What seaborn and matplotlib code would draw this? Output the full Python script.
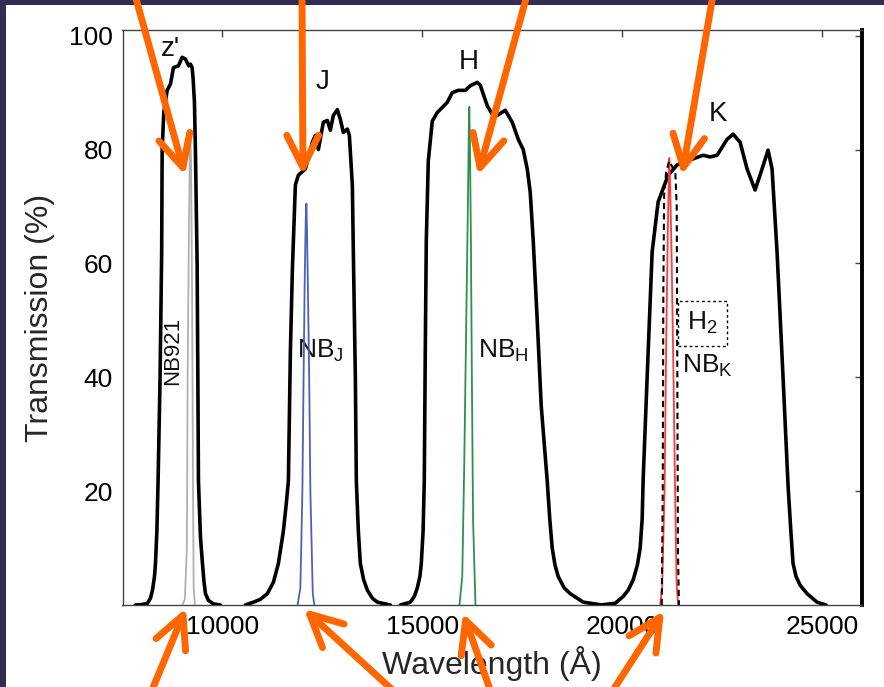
import matplotlib
matplotlib.use("Agg")
import matplotlib.pyplot as plt
import seaborn as sns
import pandas as pd
from matplotlib.patches import FancyArrowPatch, Rectangle

# ---------------- data ----------------
zp_wl = [7825, 8000, 8125, 8200, 8250, 8300, 8325, 8360, 8390, 8440, 8480, 8492, 8533, 8617, 8700,
         8775, 8900, 8992, 9075, 9158, 9200, 9242, 9267, 9300, 9325, 9367, 9385, 9400, 9450,
         9500, 9540, 9575, 9650, 9775, 9950]
zp_tr = [0, 0.1, 0.3, 1.2, 2.6, 5, 7.3, 13, 21.8, 40, 62, 80, 86.5, 90.4, 91.5,
         94.4, 94.7, 96.2, 95.9, 94.7, 95, 94.4, 92.4, 88.3, 79.5, 60, 40, 21.8, 12,
         7.3, 4, 2, 0.8, 0.2, 0]

j_wl = [10575, 10775, 10950, 11125, 11275, 11400, 11525, 11600, 11650, 11700, 11750, 11825,
        11900, 12075, 12250, 12325, 12400, 12525, 12625, 12700, 12775, 12875, 12950, 13025,
        13125, 13175, 13250, 13275, 13325, 13350, 13400, 13450, 13530, 13625, 13750, 13875, 14200]
j_tr = [0, 0.5, 1, 2, 4, 7.3, 13, 18, 21.8, 44.6, 59, 73.8,
        75.5, 76.6, 81.3, 82.5, 80, 84.8, 85.1, 83.4, 86, 87, 85.3, 83,
        83.6, 82.5, 73.8, 62, 40, 21.8, 13, 7.3, 4.5, 2.6, 1.2, 0.5, 0]

h_wl = [14450, 14700, 14800, 14875, 14940, 14975, 15020, 15050, 15075, 15100, 15150, 15250,
        15375, 15625, 15750, 15900, 16075, 16200, 16375, 16450, 16625, 16750, 16875, 17075,
        17250, 17400, 17525, 17625, 17700, 17775, 17875, 17975, 18125, 18190, 18250, 18320,
        18400, 18550, 18700, 19025, 19500]
h_tr = [0, 0.5, 1.5, 3, 5, 7.3, 13, 22, 45, 64, 78, 85,
        86.5, 88.3, 90, 90.4, 90.4, 91.2, 91.8, 91.3, 87.7, 86.2, 86, 86.9,
        84.8, 81.8, 80, 76.6, 72.5, 64, 50, 35, 21.8, 15, 10, 7,
        5, 3, 2, 0.5, 0]

k_wl = [19450, 19825, 20025, 20150, 20275, 20380, 20450, 20500, 20525, 20625, 20750, 20900,
        21150, 21375, 21750, 22025, 22200, 22375, 22625, 22775, 22950, 23125, 23325, 23500,
        23650, 23750, 23825, 23875, 24025, 24150, 24220, 24275, 24350, 24450, 24625, 24875, 25100]
k_tr = [0, 0.3, 1.5, 2.6, 4.4, 7, 10, 15, 22, 40, 62, 70.8,
        75.5, 77.3, 78.3, 79, 78.7, 79, 81.8, 82.7, 81.3, 76.6, 72.9, 76.6,
        79.9, 76.6, 67.8, 62, 40, 21, 13, 7.3, 5, 3.5, 2, 0.5, 0]

nb921_wl = [9000, 9060, 9110, 9130, 9160, 9185, 9200, 9215, 9240, 9265, 9280, 9310]
nb921_tr = [0, 1, 10, 40, 65, 80, 82, 78, 55, 20, 3, 0]

nbj_wl = [11880, 11950, 12000, 12030, 12060, 12085, 12100, 12115, 12140, 12170, 12200, 12260, 12300]
nbj_tr = [0, 3, 20, 40, 58, 68, 70.5, 66, 55, 40, 20, 2, 0]

nbh_wl = [15930, 16000, 16050, 16100, 16140, 16165, 16175, 16190, 16215, 16240, 16270, 16330]
nbh_tr = [0, 5, 25, 50, 70, 84, 87.5, 82, 65, 40, 15, 0]

nbk_wl = [20950, 21000, 21060, 21100, 21140, 21170, 21180, 21200, 21240, 21280, 21320, 21360, 21400]
nbk_tr = [0, 3, 20, 45, 65, 76, 78.5, 74, 60, 42, 22, 4, 0]

h2_wl = [20990, 21015, 21030, 21050, 21100, 21175, 21250, 21330, 21365, 21380, 21395, 21420]
h2_tr = [0, 20, 55, 72, 76, 78, 77, 76, 70, 40, 10, 0]

x_ticks = [10000, 15000, 20000, 25000]
y_ticks = [20, 40, 60, 80, 100]

# ---------------- style ----------------
sns.set_theme(style="white")
plt.rcParams["font.family"] = ["Liberation Sans", "DejaVu Sans"]
plt.rcParams["mathtext.fontset"] = "custom"
plt.rcParams["mathtext.rm"] = "Liberation Sans"
plt.rcParams["mathtext.it"] = "Liberation Sans:italic"
plt.rcParams["mathtext.bf"] = "Liberation Sans:bold"

W, H = 884, 687
fig = plt.figure(figsize=(W / 100, H / 100), dpi=100)
fig.patch.set_facecolor("#312d55")
fig.add_artist(Rectangle((6 / W, 0), 1 - 6 / W, 1 - 5 / H, transform=fig.transFigure,
                         facecolor="white", edgecolor="none", zorder=-10))

ax = fig.add_axes([122.5 / W, 1 - 605 / H, 739.5 / W, 575 / H])
ax.set_facecolor("white")

broad = [(zp_wl, zp_tr), (j_wl, j_tr), (h_wl, h_tr), (k_wl, k_tr)]
for wl, tr in broad:
    sns.lineplot(x=wl, y=tr, ax=ax, color="black", lw=2.6, estimator=None, sort=False, zorder=3)

narrow = [(nb921_wl, nb921_tr, "#b0b0b0"), (nbj_wl, nbj_tr, "#4a62b5"),
          (nbh_wl, nbh_tr, "#2f8f4e"), (nbk_wl, nbk_tr, "#ff3b3b")]
for wl, tr, c in narrow:
    sns.lineplot(x=wl, y=tr, ax=ax, color=c, lw=1.3, estimator=None, sort=False, zorder=4)

sns.lineplot(x=h2_wl, y=h2_tr, ax=ax, color="black", lw=1.5, estimator=None, sort=False,
             zorder=5, linestyle=(0, (3, 2)))

ax.set_xlim(7500, 26000)
ax.set_ylim(0, 101)
ax.set_xticks(x_ticks)
ax.set_yticks(y_ticks)
ax.tick_params(direction="in", length=5, width=1, top=True, right=True,
               labelsize=19, pad=7, colors="#444444", labelcolor="black")
for side in ["left", "bottom", "top"]:
    ax.spines[side].set_color("#444444")
    ax.spines[side].set_linewidth(1.0)
ax.spines["right"].set_color("black")
ax.spines["right"].set_linewidth(2.8)

ax.set_xlabel("Wavelength (Å)", fontsize=23, labelpad=5)
ax.set_ylabel("Transmission (%)", fontsize=23, labelpad=10)

tc = "#111111"
ax.text(8700, 97.6, "z'", fontsize=20, ha="center", va="center", color=tc)
ax.text(12500, 91.8, "J", fontsize=20, ha="center", va="center", color=tc)
ax.text(16150, 95.3, "H", fontsize=20, ha="center", va="center", color=tc)
ax.text(22400, 86.2, "K", fontsize=20, ha="center", va="center", color=tc)
ax.text(8750, 44.6, "NB921", fontsize=16, rotation=90, ha="center", va="center", color=tc)
ax.text(11875, 44.6, r"NB$_{\mathrm{J}}$", fontsize=19, ha="left", va="center", color=tc)
ax.text(16400, 44.6, r"NB$_{\mathrm{H}}$", fontsize=19, ha="left", va="center", color=tc)
ax.text(21500, 42.0, r"NB$_{\mathrm{K}}$", fontsize=19, ha="left", va="center", color=tc)
ax.text(22000, 49.5, r"H$_{\mathrm{2}}$", fontsize=19, ha="center", va="center", color=tc,
        bbox=dict(boxstyle="square,pad=0.35", facecolor="white", edgecolor="black",
                  linestyle=(0, (2, 2)), linewidth=1.0), zorder=6)

# ---------------- orange annotation arrows (figure pixel positions) ----------------
arrows = [((135, -5), (185, 175)), ((302, -5), (303, 175)), ((527, -5), (478, 175)),
          ((713, -5), (682, 175)), ((150, 695), (186, 608)), ((398, 695), (304, 609)),
          ((492, 695), (463, 613)), ((610, 695), (664, 611))]
for (x0, y0), (x1, y1) in arrows:
    p = FancyArrowPatch((x0 / W, 1 - y0 / H), (x1 / W, 1 - y1 / H),
                        transform=fig.transFigure,
                        arrowstyle="->,head_length=2.3,head_width=1.15",
                        mutation_scale=10, lw=5, color="#ff6600",
                        shrinkA=0, shrinkB=0, capstyle="round", joinstyle="round", zorder=20)
    fig.add_artist(p)

fig.savefig("out.png", dpi=100, facecolor=fig.get_facecolor())
